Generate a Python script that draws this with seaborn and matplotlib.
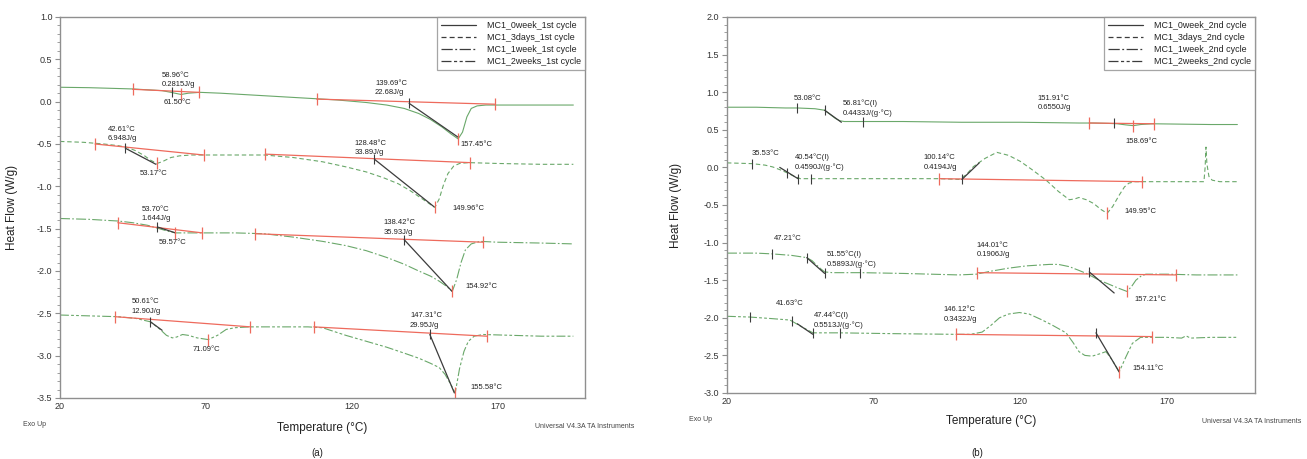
import matplotlib
matplotlib.use("Agg")
import matplotlib.pyplot as plt
from matplotlib.lines import Line2D
from matplotlib.ticker import MultipleLocator
import pandas as pd
import seaborn as sns

# ---------------- Panel (a): 1st cycle ----------------
a0_T = [20, 30, 40, 45, 50, 55, 58, 61.5, 64, 68, 75, 85, 95, 105, 115, 125, 132, 138, 143, 147, 151, 154, 156.5, 158, 159.5, 161, 163, 166, 175, 185, 196]
a0_HF = [0.17, 0.165, 0.155, 0.15, 0.14, 0.13, 0.11, 0.085, 0.10, 0.11, 0.10, 0.08, 0.06, 0.04, 0.02, -0.01, -0.04, -0.08, -0.14, -0.21, -0.30, -0.38, -0.44, -0.36, -0.18, -0.08, -0.05, -0.04, -0.04, -0.04, -0.04]

a1_T = [20, 28, 35, 40, 43, 46, 49, 51, 53.2, 55, 58, 61, 65, 70, 80, 90, 100, 110, 118, 125, 131, 136, 140, 143, 146, 148.5, 150, 151.5, 153, 155, 157, 160, 170, 185, 196]
a1_HF = [-0.47, -0.48, -0.50, -0.52, -0.54, -0.58, -0.64, -0.69, -0.73, -0.71, -0.66, -0.64, -0.63, -0.63, -0.63, -0.63, -0.66, -0.71, -0.77, -0.83, -0.90, -0.97, -1.05, -1.12, -1.19, -1.25, -1.15, -0.98, -0.85, -0.76, -0.73, -0.72, -0.73, -0.74, -0.74]

a2_T = [20, 30, 40, 45, 50, 54, 57, 59.6, 62, 66, 70, 80, 90, 100, 110, 118, 125, 132, 138, 143, 147, 150, 152.5, 154.5, 156, 157.5, 159, 161, 164, 170, 185, 196]
a2_HF = [-1.38, -1.39, -1.41, -1.43, -1.46, -1.50, -1.53, -1.55, -1.55, -1.55, -1.55, -1.55, -1.56, -1.60, -1.65, -1.70, -1.76, -1.84, -1.92, -2.00, -2.06, -2.12, -2.18, -2.24, -2.10, -1.90, -1.75, -1.68, -1.65, -1.66, -1.67, -1.68]

a3_T = [20, 30, 40, 46, 51, 54, 56.5, 58.5, 60, 62, 64, 67, 70.8, 74, 77, 80, 85, 95, 105, 110, 118, 125, 132, 138, 143, 147, 150, 152, 154, 155.5, 157, 158.5, 160, 162, 165, 175, 185, 196]
a3_HF = [-2.52, -2.53, -2.54, -2.56, -2.60, -2.68, -2.76, -2.79, -2.78, -2.75, -2.76, -2.79, -2.81, -2.76, -2.69, -2.67, -2.66, -2.66, -2.66, -2.67, -2.76, -2.83, -2.90, -2.97, -3.03, -3.09, -3.14, -3.22, -3.34, -3.44, -3.15, -2.95, -2.83, -2.77, -2.75, -2.76, -2.77, -2.77]

# baselines (red) and tangents (dark) : (T pair, HF pair)
a_baselines = [([44.9, 67.6], [0.146, 0.11]), ([108, 169], [0.03, -0.03]),
               ([32, 69.3], [-0.50, -0.63]), ([90.4, 160.5], [-0.62, -0.72]),
               ([39.8, 68.8], [-1.43, -1.55]), ([87, 165], [-1.56, -1.66]),
               ([39, 85.3], [-2.54, -2.66]), ([107, 166.3], [-2.66, -2.77])]
a_tangents = [([139.7, 156.5], [-0.02, -0.42]),
              ([42.4, 52.9], [-0.55, -0.74]), ([127.8, 148.2], [-0.68, -1.24]),
              ([53.4, 59.6], [-1.48, -1.55]), ([138.0, 154.4], [-1.63, -2.24]),
              ([51.0, 55.0], [-2.60, -2.70]), ([146.8, 155.2], [-2.75, -3.44])]
a_peaks_T = [61.5, 156.5, 53.2, 148.5, 59.6, 154.5, 70.8, 155.5]
a_peaks_HF = [0.085, -0.44, -0.73, -1.25, -1.55, -2.24, -2.81, -3.44]
a_onsets_T = [58.4, 139.7, 42.4, 127.8, 53.4, 138.0, 51.0, 146.8]
a_onsets_HF = [0.11, -0.02, -0.55, -0.68, -1.48, -1.63, -2.60, -2.75]

a_labels = ["MC1_0week_1st cycle", "MC1_3days_1st cycle", "MC1_1week_1st cycle", "MC1_2weeks_1st cycle"]
a_texts = [("58.96°C\n0.2815J/g", 55.0, 0.26), ("61.50°C", 55.5, -0.01),
           ("139.69°C\n22.68J/g", 128.0, 0.165), ("157.45°C", 157.4, -0.51),
           ("42.61°C\n6.948J/g", 36.4, -0.38), ("53.17°C", 47.5, -0.85),
           ("128.48°C\n33.89J/g", 121.0, -0.545), ("149.96°C", 154.4, -1.26),
           ("53.70°C\n1.644J/g", 47.9, -1.33), ("59.57°C", 53.8, -1.66),
           ("138.42°C\n35.93J/g", 131.0, -1.485), ("154.92°C", 158.9, -2.18),
           ("50.61°C\n12.90J/g", 44.5, -2.42), ("71.09°C", 65.4, -2.93),
           ("147.31°C\n29.95J/g", 140.0, -2.585), ("155.58°C", 160.8, -3.38)]

# ---------------- Panel (b): 2nd cycle ----------------
b0_T = [20, 30, 40, 44, 50, 53.3, 55, 57, 58.5, 60, 66, 80, 100, 120, 140, 145, 150, 153, 156, 158.5, 161, 165, 175, 185, 194]
b0_HF = [0.80, 0.80, 0.79, 0.79, 0.78, 0.76, 0.71, 0.65, 0.62, 0.61, 0.61, 0.61, 0.60, 0.60, 0.59, 0.59, 0.585, 0.58, 0.565, 0.555, 0.57, 0.58, 0.575, 0.57, 0.57]

b1_T = [20, 28.5, 33, 35.6, 38, 40.4, 43, 45, 48.8, 60, 80, 92.4, 99, 101.5, 104, 108, 112, 116, 120, 124, 128.8, 133, 136.7, 138.5, 140, 142.5, 145, 147.5, 149.6, 151.5, 153.7, 155.5, 157, 159, 161.5, 170, 182.6, 183.0, 183.3, 183.6, 184.3, 185.4, 188, 194]
b1_HF = [0.06, 0.05, 0.03, 0.006, -0.03, -0.07, -0.12, -0.15, -0.15, -0.15, -0.15, -0.15, -0.16, -0.10, 0.01, 0.12, 0.20, 0.16, 0.08, -0.03, -0.17, -0.32, -0.43, -0.42, -0.40, -0.43, -0.48, -0.56, -0.61, -0.52, -0.37, -0.26, -0.21, -0.19, -0.19, -0.19, -0.19, 0.0, 0.27, 0.05, -0.12, -0.17, -0.19, -0.19]

b2_T = [20, 30, 35.3, 42, 47.2, 49, 50.6, 52, 53.3, 56, 66, 80, 99, 105, 110, 116, 122, 129.9, 133, 136.7, 140, 142.5, 146.9, 150, 153.7, 156.4, 158, 159.4, 161, 162.8, 170, 180, 194]
b2_HF = [-1.14, -1.14, -1.15, -1.17, -1.20, -1.24, -1.30, -1.35, -1.39, -1.40, -1.40, -1.41, -1.43, -1.42, -1.38, -1.34, -1.31, -1.29, -1.29, -1.32, -1.37, -1.41, -1.50, -1.55, -1.61, -1.65, -1.58, -1.50, -1.45, -1.42, -1.42, -1.43, -1.43]

b3_T = [20, 27.8, 35, 41.5, 45.5, 49.3, 58.4, 75, 98, 103, 107, 110, 112.9, 116, 119.7, 123, 127.5, 131, 135.6, 138, 140, 142, 144.5, 147, 149.2, 151.3, 153.7, 156, 158.2, 161, 170, 175, 176.5, 178, 185, 194]
b3_HF = [-1.98, -1.99, -2.01, -2.03, -2.12, -2.20, -2.20, -2.21, -2.22, -2.22, -2.19, -2.10, -2.00, -1.95, -1.93, -1.95, -2.03, -2.10, -2.20, -2.33, -2.45, -2.50, -2.51, -2.48, -2.45, -2.56, -2.72, -2.52, -2.34, -2.26, -2.26, -2.27, -2.24, -2.27, -2.26, -2.26]

b_baselines = [([143.5, 165.7], [0.59, 0.58]),
               ([92.4, 161.5], [-0.15, -0.19]),
               ([105.4, 173], [-1.40, -1.43]),
               ([98.2, 164.9], [-2.22, -2.25])]
b_tangents = [([53.3, 59.0], [0.76, 0.60]),
              ([38.0, 44.2], [0.0, -0.15]), ([100.1, 106], [-0.16, 0.06]),
              ([47.2, 53.3], [-1.20, -1.41]), ([143.5, 152], [-1.39, -1.67]),
              ([44.0, 49.3], [-2.08, -2.22]), ([145.8, 153.7], [-2.20, -2.72])]
b_peaks_T = [158.5, 149.6, 156.4, 153.7]
b_peaks_HF = [0.555, -0.61, -1.65, -2.72]
b_ticks_T = [44, 53.3, 66.3, 151.9, 28.5, 40.4, 44.2, 48.8, 100.1, 35.3, 47.2, 53.3, 65.3, 143.5, 27.8, 42.3, 49.5, 58.4, 145.8]
b_ticks_HF = [0.79, 0.76, 0.61, 0.585, 0.05, -0.07, -0.15, -0.15, -0.16, -1.15, -1.20, -1.40, -1.40, -1.39, -1.99, -2.04, -2.20, -2.20, -2.20]

b_labels = ["MC1_0week_2nd cycle", "MC1_3days_2nd cycle", "MC1_1week_2nd cycle", "MC1_2weeks_2nd cycle"]
b_texts = [("53.08°C", 42.8, 0.91), ("56.81°C(I)\n0.4433J/(g·°C)", 59.5, 0.79),
           ("151.91°C\n0.6550J/g", 125.8, 0.86), ("158.69°C", 155.7, 0.34),
           ("35.53°C", 28.5, 0.18), ("40.54°C(I)\n0.4590J/(g·°C)", 43.0, 0.065),
           ("100.14°C\n0.4194J/g", 87.0, 0.065), ("149.95°C", 155.4, -0.59),
           ("47.21°C", 36.0, -0.95), ("51.55°C(I)\n0.5893J/(g·°C)", 54.0, -1.225),
           ("144.01°C\n0.1906J/g", 105.0, -1.095), ("157.21°C", 159.0, -1.76),
           ("41.63°C", 36.7, -1.81), ("47.44°C(I)\n0.5513J/(g·°C)", 49.6, -2.035),
           ("146.12°C\n0.3432J/g", 93.8, -1.955), ("154.11°C", 158.4, -2.67)]

# ---------------- styling ----------------
GREEN = "#6aa86a"
RED = "#ee6a5c"
DARK = "#3c3c3c"
SPINE = "#8f8f8f"
STYLES = ["-", (0, (4, 2.5)), (0, (9, 2, 1.5, 2)), (0, (8, 2, 2.5, 2, 2.5, 2))]

sns.set_style("white")
plt.rcParams["font.family"] = ["Liberation Sans", "DejaVu Sans"]

fig = plt.figure(figsize=(13.07, 4.59), dpi=100)
axA = fig.add_axes([0.0459, 0.1329, 0.4017, 0.8301])
axB = fig.add_axes([0.5562, 0.1438, 0.4040, 0.8192])


def draw_panel(ax, curves, baselines, tangents, peaksT, peaksHF, ticksT, ticksHF,
               texts, labels, ylim, ymaj):
    for (T, HF), ls in zip(curves, STYLES):
        df = pd.DataFrame({"T": T, "HF": HF})
        sns.lineplot(data=df, x="T", y="HF", ax=ax, color=GREEN, lw=0.8,
                     sort=False, estimator=None, legend=False)
        ax.lines[-1].set_linestyle(ls)
    for T, HF in baselines:
        ax.plot(T, HF, color=RED, lw=0.9, marker="|", ms=8, mew=0.9)
    for T, HF in tangents:
        ax.plot(T, HF, color=DARK, lw=0.9)
    ax.plot(peaksT, peaksHF, ls="none", color=RED, marker="|", ms=8, mew=0.9)
    ax.plot(ticksT, ticksHF, ls="none", color=DARK, marker="|", ms=7, mew=0.8)
    for s, x, y in texts:
        ax.text(x, y, s, fontsize=5.5, color="#222222", ha="left", va="center",
                linespacing=1.45)
    ax.set_xlim(20, 200)
    ax.set_ylim(*ylim)
    ax.set_xticks([20, 70, 120, 170])
    ax.xaxis.set_minor_locator(MultipleLocator(12.5))
    ax.yaxis.set_major_locator(MultipleLocator(ymaj))
    ax.yaxis.set_minor_locator(MultipleLocator(0.1))
    ax.yaxis.set_major_formatter(matplotlib.ticker.FormatStrFormatter("%.1f"))
    ax.tick_params(axis="x", which="both", direction="in", labelsize=6.5,
                   colors=SPINE, labelcolor="#333333")
    ax.tick_params(axis="x", which="major", length=4, width=0.8, pad=3)
    ax.tick_params(axis="x", which="minor", length=2.5, width=0.6)
    ax.tick_params(axis="y", which="both", direction="out", labelsize=6.5,
                   colors=SPINE, labelcolor="#333333", left=True)
    ax.tick_params(axis="y", which="major", length=3.5, width=0.8, pad=2)
    ax.tick_params(axis="y", which="minor", length=2, width=0.6)
    for sp in ax.spines.values():
        sp.set_color(SPINE)
        sp.set_linewidth(1.0)
    ax.set_xlabel("Temperature (°C)", fontsize=8.5, color="#222222")
    ax.set_ylabel("Heat Flow (W/g)", fontsize=8.5, color="#222222")
    handles = [Line2D([0], [0], color=DARK, lw=0.9, ls=ls) for ls in STYLES]
    leg = ax.legend(handles, labels, loc="upper right", bbox_to_anchor=(1, 1),
                    borderaxespad=0, frameon=True, fancybox=False, fontsize=6.4,
                    handlelength=4.0, labelspacing=0.35, borderpad=0.45,
                    handletextpad=1.2)
    leg.get_frame().set_edgecolor(SPINE)
    leg.get_frame().set_linewidth(0.9)
    for t in leg.get_texts():
        t.set_color("#222222")


draw_panel(axA, [(a0_T, a0_HF), (a1_T, a1_HF), (a2_T, a2_HF), (a3_T, a3_HF)],
           a_baselines, a_tangents, a_peaks_T, a_peaks_HF, a_onsets_T, a_onsets_HF,
           a_texts, a_labels, (-3.5, 1.0), 0.5)
draw_panel(axB, [(b0_T, b0_HF), (b1_T, b1_HF), (b2_T, b2_HF), (b3_T, b3_HF)],
           b_baselines, b_tangents, b_peaks_T, b_peaks_HF, b_ticks_T, b_ticks_HF,
           b_texts, b_labels, (-3.0, 2.0), 0.5)

axA.yaxis.set_label_coords(-0.08, 0.5)
axB.yaxis.set_label_coords(-0.085, 0.5)
axA.xaxis.set_label_coords(0.5, -0.062)
axB.xaxis.set_label_coords(0.5, -0.058)

fig.text(0.0176, 0.076, "Exo Up", fontsize=5, color="#444444", va="center")
fig.text(0.527, 0.085, "Exo Up", fontsize=5, color="#444444", va="center")
fig.text(0.409, 0.070, "Universal V4.3A TA Instruments", fontsize=5, color="#444444", va="center")
fig.text(0.920, 0.081, "Universal V4.3A TA Instruments", fontsize=5, color="#444444", va="center")
fig.text(317 / 1307, 0.014, "(a)", fontsize=7, color="#222222", ha="center", va="center")
fig.text(977 / 1307, 0.014, "(b)", fontsize=7, color="#222222", ha="center", va="center")

fig.savefig("out.png", dpi=100, facecolor="white")
